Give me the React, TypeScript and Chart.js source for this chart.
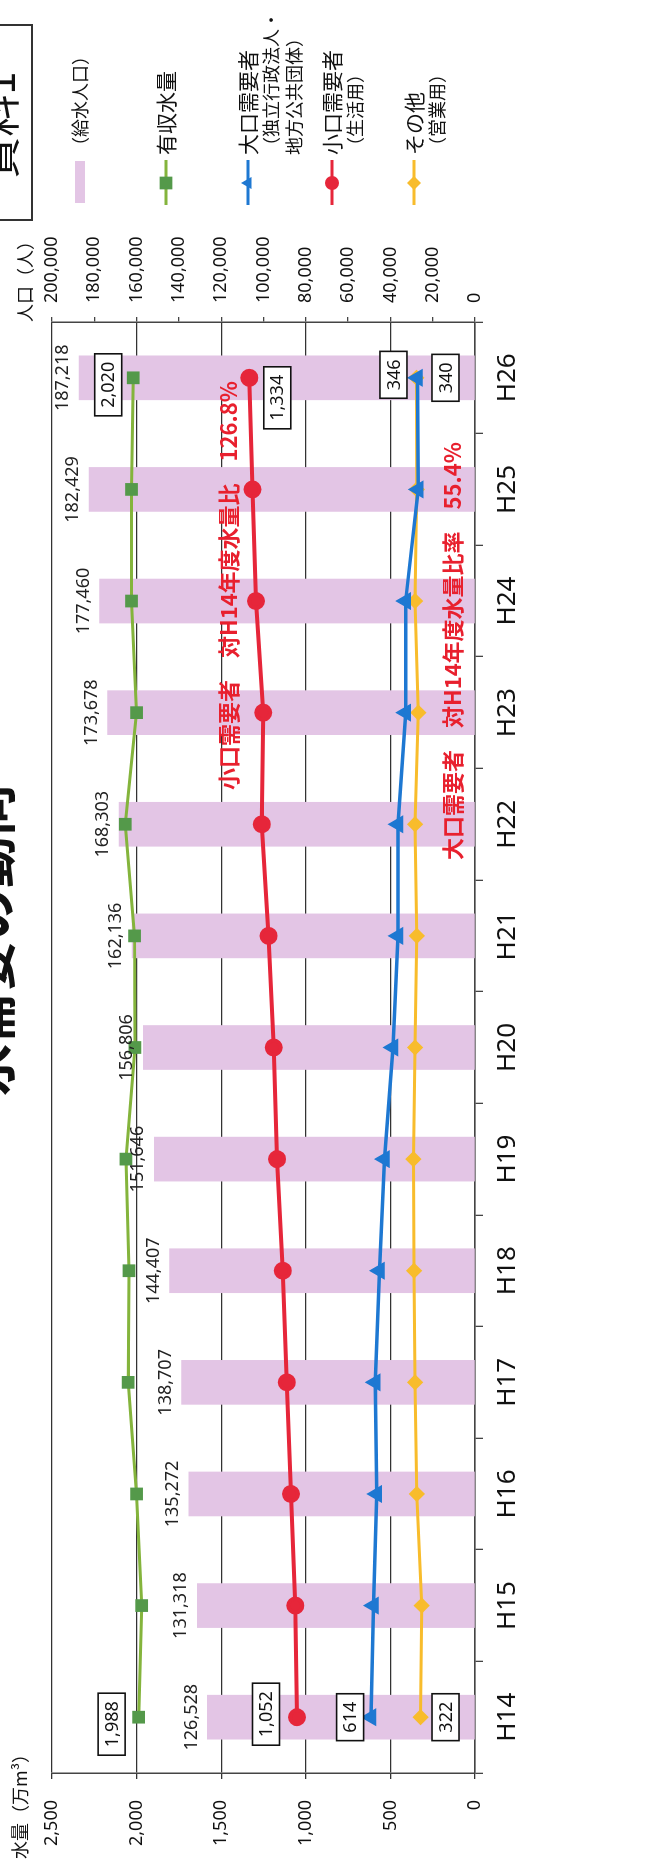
import { useEffect, useRef } from 'react';
import { Chart, registerables } from 'chart.js';

Chart.register(...registerables);

// ---- data ----
const categories = ['H14', 'H15', 'H16', 'H17', 'H18', 'H19', 'H20', 'H21', 'H22', 'H23', 'H24', 'H25', 'H26'];
const population = [126528, 131318, 135272, 138707, 144407, 151646, 156806, 162136, 168303, 173678, 177460, 182429, 187218];
const yushuSuiryo = [1988, 1970, 2000, 2050, 2045, 2063, 2010, 2012, 2067, 2000, 2030, 2030, 2020];
const koguchi = [1052, 1062, 1088, 1112, 1136, 1170, 1190, 1220, 1260, 1252, 1295, 1315, 1334];
const oguchi = [614, 600, 580, 590, 565, 535, 485, 455, 455, 410, 410, 335, 340];
const sonota = [322, 315, 344, 354, 360, 364, 354, 344, 354, 335, 354, 344, 346];
const waterTickStep = 500;
const waterMax = 2500;
const popTickStep = 20000;
const popMax = 200000;

const NUM = '"Noto Sans", "Liberation Sans", sans-serif';
const JP = '"Noto Sans CJK JP", "Noto Sans", sans-serif';

const GREEN_LINE = '#84B43C';
const GREEN_PT = '#54994A';
const RED = '#E6263A';
const BLUE = '#1E78D2';
const ORANGE = '#F8BC2C';
const PINK = 'rgb(227,197,229)';

const fmt = (n: number) => Math.round(n).toLocaleString('en-US');

type Shape = 'rect' | 'circle' | 'triangle' | 'rectRot' | 'bar';

function drawMarker(ctx: CanvasRenderingContext2D, shape: Shape, x: number, y: number, r: number, color: string) {
  ctx.fillStyle = color;
  ctx.beginPath();
  if (shape === 'rect') {
    const s = r * Math.SQRT1_2;
    ctx.rect(x - s, y - s, 2 * s, 2 * s);
  } else if (shape === 'circle') {
    ctx.arc(x, y, r, 0, Math.PI * 2);
  } else if (shape === 'triangle') {
    ctx.moveTo(x, y - r);
    ctx.lineTo(x + r * 0.866, y + r * 0.5);
    ctx.lineTo(x - r * 0.866, y + r * 0.5);
    ctx.closePath();
  } else if (shape === 'rectRot') {
    ctx.moveTo(x, y - r);
    ctx.lineTo(x + r, y);
    ctx.lineTo(x, y + r);
    ctx.lineTo(x - r, y);
    ctx.closePath();
  }
  ctx.fill();
}

// end-point boxed labels (series, index, offset in px)
const boxLabels: { data: number[]; idx: number; dx: number; dy: number }[] = [
  { data: yushuSuiryo, idx: 0, dx: -7, dy: -27 },
  { data: yushuSuiryo, idx: 12, dx: -7, dy: -25 },
  { data: koguchi, idx: 0, dx: 3, dy: -31 },
  { data: koguchi, idx: 12, dx: -20, dy: 28 },
  { data: oguchi, idx: 0, dx: 0, dy: -21 },
  { data: oguchi, idx: 12, dx: 0, dy: 28 },
  { data: sonota, idx: 0, dx: 0, dy: 25 },
  { data: sonota, idx: 12, dx: 3, dy: -23 },
];

const legendItems: { shape: Shape; color: string; line: string; lines: string[]; v: number }[] = [
  { shape: 'bar', color: PINK, line: PINK, lines: ['（給水人口）'], v: 80 },
  { shape: 'rect', color: GREEN_PT, line: GREEN_LINE, lines: ['有収水量'], v: 166 },
  { shape: 'triangle', color: BLUE, line: BLUE, lines: ['大口需要者', '（独立行政法人・', '地方公共団体）'], v: 248 },
  { shape: 'circle', color: RED, line: RED, lines: ['小口需要者', '（生活用）'], v: 332 },
  { shape: 'rectRot', color: ORANGE, line: ORANGE, lines: ['その他', '（営業用）'], v: 414 },
];

const overlayPlugin = {
  id: 'overlay',
  afterDatasetsDraw(chart: any) {
    const ctx: CanvasRenderingContext2D = chart.ctx;
    const xs = chart.scales.x;
    const ys = chart.scales.y;
    const y2 = chart.scales.y2;
    ctx.save();
    // population labels
    ctx.font = `18px ${NUM}`;
    ctx.fillStyle = '#222';
    ctx.textAlign = 'center';
    ctx.textBaseline = 'middle';
    population.forEach((p, i) => {
      ctx.fillText(fmt(p), xs.getPixelForValue(i), y2.getPixelForValue(p) - 16);
    });
    // boxed labels
    boxLabels.forEach((b) => {
      const val = b.data[b.idx];
      const cx = xs.getPixelForValue(b.idx) + b.dx;
      const cy = ys.getPixelForValue(val) + b.dy;
      const txt = fmt(val);
      ctx.font = `18px ${NUM}`;
      const w = ctx.measureText(txt).width + 16;
      const h = 27;
      ctx.fillStyle = '#fff';
      ctx.fillRect(cx - w / 2, cy - h / 2, w, h);
      ctx.lineWidth = 1.6;
      ctx.strokeStyle = '#111';
      ctx.strokeRect(cx - w / 2, cy - h / 2, w, h);
      ctx.fillStyle = '#111';
      ctx.fillText(txt, cx, cy + 1);
    });
    // red annotations
    ctx.fillStyle = '#E8202E';
    ctx.textAlign = 'left';
    ctx.font = `bold 22px ${JP}`;
    ctx.fillText('小口需要者　対H14年度水量比　126.8%', 1085, 229, 428);
    ctx.fillText('大口需要者　対H14年度水量比率　55.4%', 1015, 453, 446);
    ctx.restore();
  },
  afterDraw(chart: any) {
    const ctx: CanvasRenderingContext2D = chart.ctx;
    ctx.save();
    // axis titles
    ctx.fillStyle = '#111';
    ctx.textBaseline = 'middle';
    ctx.textAlign = 'left';
    ctx.font = `18px ${JP}`;
    ctx.fillText('水量（万m³）', 16, 20);
    ctx.fillText('人口（人）', 1553, 25);
    // legend
    legendItems.forEach((it) => {
      if (it.shape === 'bar') {
        ctx.fillStyle = it.color;
        ctx.fillRect(1672, it.v - 5, 42, 10);
      } else {
        ctx.strokeStyle = it.line;
        ctx.lineWidth = 3;
        ctx.beginPath();
        ctx.moveTo(1670, it.v);
        ctx.lineTo(1715, it.v);
        ctx.stroke();
        drawMarker(ctx, it.shape, 1692, it.v, it.shape === 'rect' ? 9 : 7, it.color);
      }
      ctx.fillStyle = '#111';
      it.lines.forEach((t, j) => {
        ctx.font = j === 0 && it.shape !== 'bar' ? `21px ${JP}` : `18px ${JP}`;
        ctx.fillText(t, 1720, it.v + j * 23);
      });
    });
    // 資料1 box
    ctx.strokeStyle = '#333';
    ctx.lineWidth = 2;
    ctx.strokeRect(1655, -10, 195, 42);
    ctx.font = `42px ${JP}`;
    ctx.textAlign = 'center';
    ctx.textBaseline = 'alphabetic';
    ctx.fillStyle = '#111';
    ctx.fillText('資料1', 1750, 15);
    // title (partly cut off at top)
    ctx.font = `bold 52px ${JP}`;
    ctx.fillText('水需要の動向', 935, 10);
    ctx.restore();
  },
};

export default function App() {
  const ref = useRef<HTMLCanvasElement>(null);
  useEffect(() => {
    if (!ref.current) return;
    const chart = new Chart(ref.current, {
      type: 'bar',
      data: {
        labels: categories,
        datasets: [
          {
            type: 'line',
            label: '有収水量',
            data: yushuSuiryo,
            yAxisID: 'y',
            borderColor: GREEN_LINE,
            borderWidth: 3,
            pointStyle: 'rect',
            pointRadius: 9,
            pointBackgroundColor: GREEN_PT,
            pointBorderColor: GREEN_PT,
            pointBorderWidth: 0,
            tension: 0,
            order: 1,
          },
          {
            type: 'line',
            label: '小口需要者',
            data: koguchi,
            yAxisID: 'y',
            borderColor: RED,
            borderWidth: 4,
            pointStyle: 'circle',
            pointRadius: 7,
            pointBackgroundColor: RED,
            pointBorderColor: RED,
            tension: 0,
            order: 2,
          },
          {
            type: 'line',
            label: '大口需要者',
            data: oguchi,
            yAxisID: 'y',
            borderColor: BLUE,
            borderWidth: 3.5,
            pointStyle: 'triangle',
            pointRadius: 7,
            pointBackgroundColor: BLUE,
            pointBorderColor: BLUE,
            tension: 0,
            order: 3,
          },
          {
            type: 'line',
            label: 'その他',
            data: sonota,
            yAxisID: 'y',
            borderColor: ORANGE,
            borderWidth: 3,
            pointStyle: 'rectRot',
            pointRadius: 6,
            pointBackgroundColor: ORANGE,
            pointBorderColor: ORANGE,
            tension: 0,
            order: 4,
          },
          {
            type: 'bar',
            label: '給水人口',
            data: population,
            yAxisID: 'y2',
            backgroundColor: PINK,
            barThickness: 44,
            order: 10,
          },
        ] as any,
      },
      options: {
        animation: false,
        responsive: true,
        maintainAspectRatio: false,
        layout: { padding: { left: 0, right: 212, top: 52, bottom: 118 } },
        plugins: {
          legend: { display: false },
          tooltip: { enabled: false },
          title: { display: false },
        },
        scales: {
          x: {
            type: 'category',
            offset: true,
            grid: { offset: true, drawOnChartArea: false, drawTicks: true, tickLength: 8, color: '#444', lineWidth: 1.3 },
            border: { display: true, color: '#444', width: 1.5 },
            ticks: { font: { family: NUM, size: 26 }, color: '#111', padding: 9, maxRotation: 0, autoSkip: false },
            afterFit: (s: any) => { s.height = 60; },
          },
          y: {
            position: 'left',
            min: 0,
            max: waterMax,
            ticks: {
              stepSize: waterTickStep,
              padding: 21,
              color: '#111',
              font: { family: NUM, size: 18 },
              callback: (v: any) => fmt(Number(v)),
            },
            grid: { color: '#333', lineWidth: 1.3, tickLength: 6, drawTicks: true },
            border: { display: true, color: '#444', width: 1.5 },
            afterFit: (s: any) => { s.width = 102; },
          },
          y2: {
            position: 'right',
            min: 0,
            max: popMax,
            ticks: {
              stepSize: popTickStep,
              padding: 14,
              color: '#111',
              font: { family: NUM, size: 18 },
              callback: (v: any) => fmt(Number(v)),
            },
            grid: { drawOnChartArea: false, tickLength: 5, color: '#444', lineWidth: 1.3 },
            border: { display: true, color: '#444', width: 1.5 },
            afterFit: (s: any) => { s.width = 110; },
          },
        } as any,
      },
      plugins: [overlayPlugin],
    });
    return () => chart.destroy();
  }, []);

  return (
    <div style={{ position: 'absolute', left: 0, top: 0, width: 653, height: 1875, overflow: 'hidden', background: '#fff' }}>
      <div
        style={{
          position: 'absolute',
          left: 0,
          top: 0,
          width: 1875,
          height: 653,
          transformOrigin: '0 0',
          transform: 'translateY(1875px) rotate(-90deg)',
        }}
      >
        <canvas ref={ref} />
      </div>
    </div>
  );
}
